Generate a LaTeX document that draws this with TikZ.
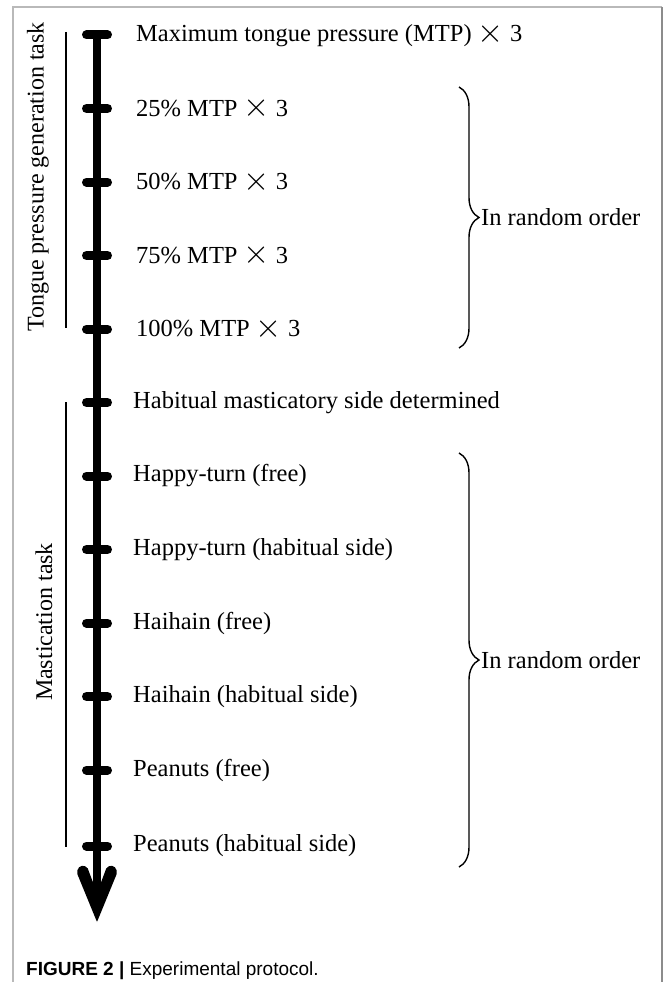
\documentclass[tikz,border=0pt]{standalone}
\usepackage{fontspec}
\setmainfont{Liberation Serif}
\newfontfamily\capfont{Liberation Sans}
\usetikzlibrary{decorations.pathreplacing}
\newcommand{\mytimes}{\raisebox{-0.5pt}{\scalebox{1.35}{$\times$}}}
\tikzset{
  axisline/.style={line width=8pt},
  tickmark/.style={line width=9pt, line cap=round},
  grouprule/.style={line width=2.2pt},
  lbl/.style={anchor=west, font=\fontsize{24.5}{28}\selectfont, inner sep=0pt},
  sidelbl/.style={rotate=90, font=\fontsize{24}{28}\selectfont, inner sep=0pt},
  bracestyle/.style={decorate, decoration={brace, amplitude=20pt}, line width=1.4pt},
  framestyle/.style={line width=2pt}
}
\begin{document}
\begin{tikzpicture}[x=1pt,y=-1pt]
\useasboundingbox (0,0) rectangle (663,982);
% frame
\draw[framestyle, gray!55] (12.7,982) -- (12.7,7) -- (661.5,7);
\draw[framestyle, gray!90] (661.5,7) -- (661.5,982);
% tick coordinates
\foreach \i/\yy in {1/35,2/108.5,3/182,4/255.5,5/329,6/402.5,7/476,8/549.5,9/623,10/696.5,11/770,12/846}
  \coordinate (t\i) at (97,\yy);
\coordinate (axend) at (97,900);
\coordinate (tip) at (97,922);
% axis
\draw[axisline] (t1) -- (axend);
\fill[rounded corners=2pt] (tip) -- (76.5,872) -- (80,865.5) -- (87,866.5) -- (97,893) -- (107,866.5) -- (114,865.5) -- (117.5,872) -- cycle;
\fill (tip) -- (93,905) -- (101,905) -- cycle;
% ticks
\foreach \i in {1,...,12}
  \draw[tickmark] ([xshift=-10.5pt]t\i) -- ([xshift=10.5pt]t\i);
% labels
\node[lbl] (l1) at (136,35) {Maximum tongue pressure (MTP) \mytimes{} 3};
\node[lbl] (l2) at (136,108.5) {25\% MTP \mytimes{} 3};
\node[lbl] (l3) at (136,182) {50\% MTP \mytimes{} 3};
\node[lbl] (l4) at (136,255.5) {75\% MTP \mytimes{} 3};
\node[lbl] (l5) at (136,329) {100\% MTP \mytimes{} 3};
\node[lbl] (l6) at (133,402.5) {Habitual masticatory side determined};
\node[lbl] (l7) at (133,476) {Happy-turn (free)};
\node[lbl] (l8) at (133,549.5) {Happy-turn (habitual side)};
\node[lbl] (l9) at (133,623) {Haihain (free)};
\node[lbl] (l10) at (133,696.5) {Haihain (habitual side)};
\node[lbl] (l11) at (133,770) {Peanuts (free)};
\node[lbl] (l12) at (133,846) {Peanuts (habitual side)};
% group rules and side labels
\coordinate (g1a) at (66,32);
\coordinate (g1b) at (66,328);
\coordinate (g2a) at (66,402);
\coordinate (g2b) at (66,847);
\draw[grouprule] (g1a) -- (g1b);
\draw[grouprule] (g2a) -- (g2b);
\node[sidelbl] (s1) at (38,177) {Tongue pressure generation task};
\node[sidelbl] (s2) at (44,622) {Mastication task};
% braces
\coordinate (b1a) at (459,87);
\coordinate (b1b) at (459,348);
\coordinate (b2a) at (459,453);
\coordinate (b2b) at (459,867);
\draw[bracestyle] (b1a) -- (b1b);
\draw[bracestyle] (b2a) -- (b2b);
\node[lbl] (r1) at (481,217.5) {In random order};
\node[lbl] (r2) at (481,660) {In random order};
% caption
\node[anchor=base west, inner sep=0pt, font=\capfont\fontsize{19}{22}\selectfont] (cap) at (26,975)
  {\textbf{FIGURE 2 |} Experimental protocol.};
\end{tikzpicture}
\end{document}
